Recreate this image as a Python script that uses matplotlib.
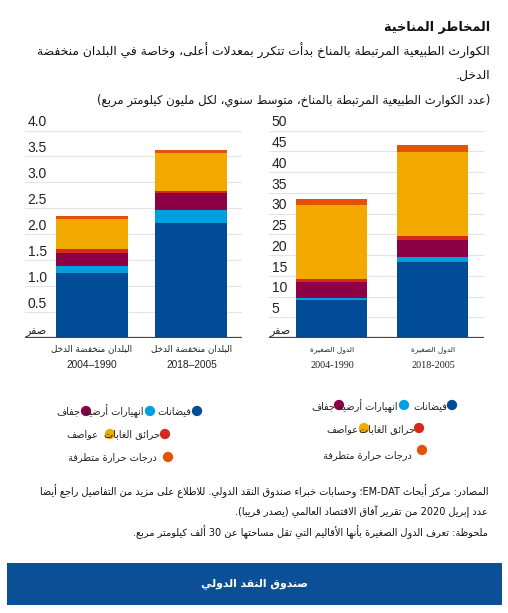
import re
import matplotlib
matplotlib.use("Agg")
import matplotlib.pyplot as plt
from matplotlib.patches import Rectangle

# matplotlib lays glyphs out left to right and does not join arabic letters,
# so pick the presentation forms here and flip the run order
DUAL = {'ئ': 0xFE89, 'ب': 0xFE8F, 'ت': 0xFE95, 'ث': 0xFE99, 'ج': 0xFE9D, 'ح': 0xFEA1,
        'خ': 0xFEA5, 'س': 0xFEB1, 'ش': 0xFEB5, 'ص': 0xFEB9, 'ض': 0xFEBD, 'ط': 0xFEC1,
        'ظ': 0xFEC5, 'ع': 0xFEC9, 'غ': 0xFECD, 'ف': 0xFED1, 'ق': 0xFED5, 'ك': 0xFED9,
        'ل': 0xFEDD, 'م': 0xFEE1, 'ن': 0xFEE5, 'ه': 0xFEE9, 'ي': 0xFEF1}
RIGHT = {'آ': 0xFE81, 'أ': 0xFE83, 'ؤ': 0xFE85, 'إ': 0xFE87, 'ا': 0xFE8D, 'ة': 0xFE93,
         'د': 0xFEA9, 'ذ': 0xFEAB, 'ر': 0xFEAD, 'ز': 0xFEAF, 'و': 0xFEED, 'ى': 0xFEEF}
LAM_ALEF = {'آ': 0xFEF5, 'أ': 0xFEF7, 'إ': 0xFEF9, 'ا': 0xFEFB}
MIRROR = {'(': ')', ')': '('}


def shape(s):
    def links_on(c):
        return c in DUAL or c == 'ـ'

    def joins(c):
        return c in DUAL or c in RIGHT or c == 'ـ'

    res = []
    i = 0
    while i < len(s):
        c = s[i]
        link_prev = i > 0 and links_on(s[i - 1]) and joins(c)
        nxt = s[i + 1] if i + 1 < len(s) else ''
        if c == 'ل' and nxt in LAM_ALEF:
            res.append(chr(LAM_ALEF[nxt] + (1 if link_prev else 0)))
            i += 2
            continue
        if c in DUAL:
            link_next = joins(nxt)
            base = DUAL[c]
            if link_prev and link_next:
                res.append(chr(base + 3))
            elif link_prev:
                res.append(chr(base + 1))
            elif link_next:
                res.append(chr(base + 2))
            else:
                res.append(chr(base))
        elif c in RIGHT:
            res.append(chr(RIGHT[c] + (1 if link_prev else 0)))
        else:
            res.append(c)
        i += 1
    return ''.join(res)


def ar(text):
    s = shape(text)
    tokens = re.findall(r'[A-Za-z0-9]+(?:[-.][A-Za-z0-9]+)*|.', s)
    return ''.join(MIRROR.get(t, t) for t in reversed(tokens))


# data
series = ['فيضانات', 'انهيارات أرضية', 'جفاف', 'حرائق الغابات', 'عواصف', 'درجات حرارة متطرفة']
colors = ['#004c97', '#009fdf', '#8c0046', '#d6281e', '#f2a900', '#e35205']

low_income = {
    'فيضانات': [1.25, 2.22],
    'انهيارات أرضية': [0.14, 0.25],
    'جفاف': [0.25, 0.33],
    'حرائق الغابات': [0.07, 0.04],
    'عواصف': [0.58, 0.72],
    'درجات حرارة متطرفة': [0.07, 0.07],
}
small_states = {
    'فيضانات': [9.2, 18.3],
    'انهيارات أرضية': [0.5, 1.1],
    'جفاف': [3.9, 4.3],
    'حرائق الغابات': [0.6, 0.9],
    'عواصف': [17.9, 20.1],
    'درجات حرارة متطرفة': [1.3, 1.75],
}
periods = ['2004–1990', '2018–2005']
left_group = 'البلدان منخفضة الدخل'
right_group = 'الدول الصغيرة'
left_ticks = [0.5, 1.0, 1.5, 2.0, 2.5, 3.0, 3.5, 4.0]
right_ticks = [5, 10, 15, 20, 25, 30, 35, 40, 45, 50]

title = 'المخاطر المناخية'
subtitle = ['الكوارث الطبيعية المرتبطة بالمناخ بدأت تتكرر بمعدلات أعلى، وخاصة في البلدان منخفضة',
            'الدخل.']
units = '(عدد الكوارث الطبيعية المرتبطة بالمناخ، متوسط سنوي، لكل مليون كيلومتر مربع)'
notes = ['المصادر: مركز أبحاث EM-DAT؛ وحسابات خبراء صندوق النقد الدولي. للاطلاع على مزيد من التفاصيل راجع أيضا',
         'عدد إبريل 2020 من تقرير آفاق الاقتصاد العالمي (يصدر قريبا).',
         'ملحوظة: تعرف الدول الصغيرة بأنها الأقاليم التي تقل مساحتها عن 30 ألف كيلومتر مربع.']
banner = 'صندوق النقد الدولي'
zero = 'صفر'

plt.rcParams['font.family'] = ['DejaVu Sans']

W, H = 508, 613
fig = plt.figure(figsize=(W / 100, H / 100), dpi=100)

# overlay in pixel coords for text, legend and banner
bg = fig.add_axes([0, 0, 1, 1], zorder=0)
bg.set_xlim(0, W)
bg.set_ylim(H, 0)
bg.axis('off')


def px_axes(x0, x1, y0, y1):
    return fig.add_axes([x0 / W, 1 - y1 / H, (x1 - x0) / W, (y1 - y0) / H], zorder=1)


def stacked(ax, data, ticks, ymax, width, fmt):
    ax.patch.set_visible(False)
    bottom = [0, 0]
    for name, col in zip(series, colors):
        vals = data[name]
        ax.bar(range(len(vals)), vals, width=width, bottom=bottom, color=col, zorder=2)
        bottom = [b + v for b, v in zip(bottom, vals)]
    for t in ticks:
        ax.axhline(t, color='#e4e4e4', lw=0.8, zorder=1)
        ax.text(0.012, t + ymax * 0.006, fmt(t), transform=ax.get_yaxis_transform(),
                ha='left', va='bottom', fontsize=10, family='Liberation Sans', color='#222222')
    ax.text(0.0, ymax * 0.006, ar(zero), transform=ax.get_yaxis_transform(),
            ha='left', va='bottom', fontsize=8, color='#222222')
    ax.axhline(0, color='#444444', lw=1.6, zorder=3)
    ax.set_ylim(0, ymax)
    for s in ax.spines.values():
        s.set_visible(False)
    ax.set_xticks([])
    ax.set_yticks([])


ax1 = px_axes(25, 242, 130.5, 338)
stacked(ax1, low_income, left_ticks, 4.0, 0.724, lambda t: f'{t:.1f}')
ax1.set_xlim(-0.673, 1.508)

ax2 = px_axes(269, 484, 130.5, 338)
stacked(ax2, small_states, right_ticks, 50, 0.70, lambda t: f'{t:d}')
ax2.set_xlim(-0.622, 1.507)

# category labels under the bars
for cx, p in zip([92, 191.5], periods):
    bg.text(cx, 349, ar(left_group), ha='center', va='center', fontsize=6.3, color='#222222')
    bg.text(cx, 365, p, ha='center', va='center', fontsize=7.3, family='Liberation Sans',
            color='#222222')
for cx, p in zip([332, 433], periods):
    bg.text(cx, 350, ar(right_group), ha='center', va='center', fontsize=5.3, color='#222222')
    bg.text(cx, 366, p.replace('–', '-'), ha='center', va='center', fontsize=7.3, color='#222222',
            family=['Liberation Serif', 'DejaVu Sans'])

# legends, right to left
left_leg = [(197, 411, 191), (150, 411, 143), (86, 411, 80), (165, 434, 160), (110, 434, 98), (168, 457, 157)]
right_leg = [(452, 405, 447), (404, 405, 398), (339, 405, 335), (419, 428, 415), (364, 428, 358), (422, 450, 412)]
for leg, dy in [(left_leg, 0), (right_leg, 5)]:
    for (cx, cy, tx), name, col in zip(leg, series, colors):
        bg.scatter([cx], [cy], s=55, color=col, edgecolors='none', zorder=3)
        off = 4 if name == 'درجات حرارة متطرفة' and dy else 0
        bg.text(tx, cy + off + (1 if dy else 0), ar(name), ha='right', va='center', fontsize=7,
                color='#222222', zorder=4)

# header
bg.text(490, 28, ar(title), ha='right', va='center', fontsize=9.2, fontweight='bold', color='#111111')
bg.text(490, 51, ar(subtitle[0]), ha='right', va='center', fontsize=8.95, color='#111111')
bg.text(490, 75, ar(subtitle[1]), ha='right', va='center', fontsize=8.95, color='#111111')
bg.text(490, 100, ar(units), ha='right', va='center', fontsize=8.4, color='#111111')

# footer notes
for y, line in zip([491, 512, 532], notes):
    bg.text(488, y, ar(line), ha='right', va='center', fontsize=7, color='#111111')

bg.add_patch(Rectangle((7, 563), 495, 42, facecolor='#0b4f96', edgecolor='none'))
bg.text(254, 584, ar(banner), ha='center', va='center', fontsize=7.8, fontweight='bold', color='white')

fig.savefig('out.png', dpi=100)
